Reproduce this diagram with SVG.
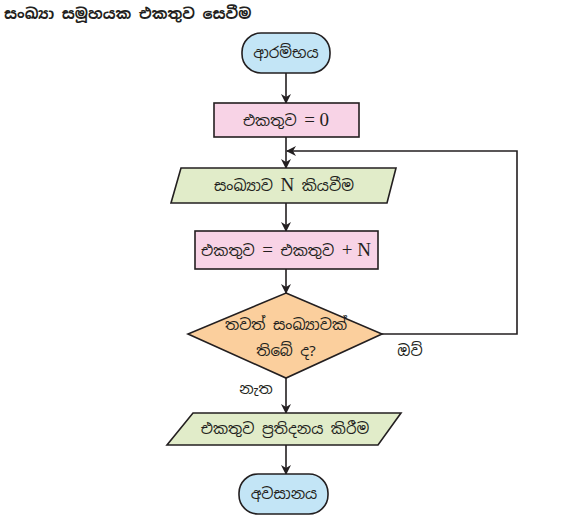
<svg xmlns="http://www.w3.org/2000/svg" width="587" height="527" viewBox="0 0 587 527">
<defs>
<marker id="arr" markerWidth="10" markerHeight="10" refX="9" refY="5" orient="auto" markerUnits="userSpaceOnUse">
<path d="M0,0 L10,5 L0,10 L3,5 Z" fill="#231f20"/>
</marker>
<style>
.shape{stroke:#231f20;stroke-width:1.6}
.term{fill:#c3e5f6}
.proc{fill:#f8d3e6}
.io{fill:#e1ecc9}
.dec{fill:#fbcf9d}
.t{font-family:"Noto Sans Sinhala","Iskoola Pota","Noto Sans","DejaVu Sans",sans-serif;font-size:15px;fill:#231f20;text-anchor:middle}
.s{font-family:"Liberation Serif",serif;font-size:19px}
.conn{fill:none;stroke:#231f20;stroke-width:1.6}
.title{font-family:"Noto Sans Sinhala","Iskoola Pota","Noto Sans","DejaVu Sans",sans-serif;font-size:15px;font-weight:bold;fill:#231f20}
</style>
</defs>
<rect width="587" height="527" fill="#ffffff"/>
<text class="title" x="4" y="19">සංඛ්‍යා සමූහයක එකතුව සෙවීම</text>
<g id="connectors">
<line class="conn" x1="286" y1="73" x2="286" y2="103" marker-end="url(#arr)"/>
<line class="conn" x1="286" y1="137" x2="286" y2="168" marker-end="url(#arr)"/>
<line class="conn" x1="286" y1="203" x2="286" y2="231" marker-end="url(#arr)"/>
<line class="conn" x1="286" y1="269" x2="286" y2="293" marker-end="url(#arr)"/>
<line class="conn" x1="286" y1="378" x2="286" y2="413" marker-end="url(#arr)"/>
<line class="conn" x1="286" y1="445" x2="286" y2="474" marker-end="url(#arr)"/>
<polyline class="conn" points="382,334 517,334 517,151 287,151" marker-end="url(#arr)"/>
<text class="t" x="410" y="356">ඔව්</text>
<text class="t" x="256" y="394">නැත</text>
</g>
<g id="start">
<rect class="shape term" x="242" y="33" width="88" height="40" rx="19"/>
<text class="t" x="286" y="58">ආරම්භය</text>
</g>
<g id="init">
<rect class="shape proc" x="214" y="103" width="145" height="34"/>
<text class="t" x="286" y="126">එකතුව <tspan class="s">= 0</tspan></text>
</g>
<g id="read">
<polygon class="shape io" points="181,168 396,168 387,203 171,203"/>
<text class="t" x="284" y="191">සංඛ්‍යාව <tspan class="s">N</tspan> කියවීම</text>
</g>
<g id="add">
<rect class="shape proc" x="195" y="231" width="183" height="38"/>
<text class="t" x="286" y="256">එකතුව <tspan class="s">=</tspan> එකතුව <tspan class="s">+ N</tspan></text>
</g>
<g id="decision">
<polygon class="shape dec" points="286,293 382,334 286,378 188,334"/>
<text class="t" x="286" y="330">තවත් සංඛ්‍යාවක්</text>
<text class="t" x="286" y="356">තිබේ ද?</text>
</g>
<g id="output">
<polygon class="shape io" points="193,413 401,413 378,445 167,445"/>
<text class="t" x="285" y="434">එකතුව ප්‍රතිදනය කිරීම</text>
</g>
<g id="end">
<rect class="shape term" x="239" y="474" width="89" height="40" rx="19"/>
<text class="t" x="284" y="499">අවසානය</text>
</g>
</svg>
